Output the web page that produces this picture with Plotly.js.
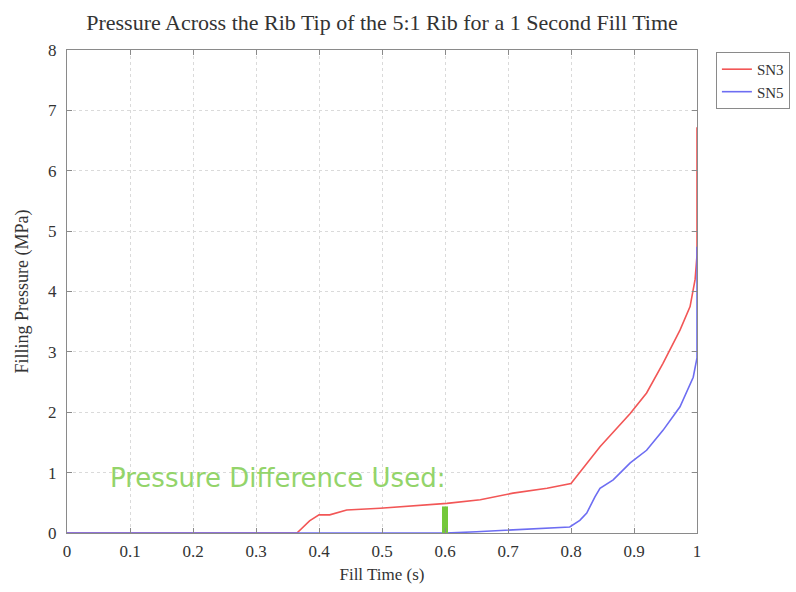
<!DOCTYPE html>
<html>
<head>
<meta charset="utf-8">
<script src="https://cdn.plot.ly/plotly-3.0.1.min.js"></script>
<style>html,body{margin:0;padding:0;background:#fff;}#chart{width:796px;height:592px;}</style>
</head>
<body>
<div id="chart"></div>
<script>
// SN3 series (red)
const sn3Time = [0, 0.365, 0.385, 0.40, 0.417, 0.444, 0.497, 0.55, 0.603, 0.656, 0.708, 0.762, 0.798, 0.80, 0.846, 0.894, 0.92, 0.946, 0.973, 0.989, 0.997, 1.0, 1.0];
const sn3Pressure = [0, 0, 0.2, 0.30, 0.30, 0.38, 0.41, 0.45, 0.49, 0.55, 0.66, 0.74, 0.81, 0.82, 1.43, 1.98, 2.32, 2.81, 3.36, 3.75, 4.2, 4.6, 6.72];
// SN5 series (blue)
const sn5Time = [0, 0.60, 0.65, 0.70, 0.75, 0.798, 0.814, 0.825, 0.838, 0.846, 0.867, 0.894, 0.92, 0.946, 0.973, 0.994, 1.0, 1.0];
const sn5Pressure = [0, 0, 0.02, 0.05, 0.08, 0.10, 0.21, 0.33, 0.60, 0.74, 0.88, 1.16, 1.37, 1.70, 2.09, 2.58, 2.9, 4.74];
// Marker of the pressure difference used
const markerTime = [0.6, 0.6];
const markerPressure = [0, 0.44];
const seriesNames = ["SN3", "SN5"];
const xTicks = [0, 0.1, 0.2, 0.3, 0.4, 0.5, 0.6, 0.7, 0.8, 0.9, 1];
const xTickLabels = ["0", "0.1", "0.2", "0.3", "0.4", "0.5", "0.6", "0.7", "0.8", "0.9", "1"];
const yTicks = [0, 1, 2, 3, 4, 5, 6, 7, 8];

const serif = "Liberation Serif, Times New Roman, serif";

const traces = [
  {x: sn3Time, y: sn3Pressure, mode: "lines", name: seriesNames[0], line: {color: "#f25656", width: 1.6}},
  {x: sn5Time, y: sn5Pressure, mode: "lines", name: seriesNames[1], line: {color: "#6d6df2", width: 1.6}},
  {x: markerTime, y: markerPressure, mode: "lines", showlegend: false, line: {color: "#74c83a", width: 6}}
];

const axisCommon = {
  showline: true, mirror: "ticks", linecolor: "#8a8a8a", linewidth: 1.2,
  ticks: "inside", ticklen: 5, tickcolor: "#8a8a8a",
  showgrid: true, gridcolor: "#dadada", griddash: "dot", gridwidth: 1,
  zeroline: false,
  tickfont: {family: serif, size: 17, color: "#333"}
};

const layout = {
  width: 796, height: 592,
  paper_bgcolor: "#fff", plot_bgcolor: "#fff",
  margin: {l: 67, r: 99, t: 50, b: 59, autoexpand: false},
  title: {text: "Pressure Across the Rib Tip of the 5:1 Rib for a 1 Second Fill Time",
          font: {family: serif, size: 22, color: "#333"}, x: 0.5, xref: "paper", y: 0.962, yanchor: "middle"},
  xaxis: Object.assign({}, axisCommon, {range: [0, 1], tickvals: xTicks, ticktext: xTickLabels, ticklabelstandoff: 2,
          title: {text: "Fill Time (s)", font: {family: serif, size: 17, color: "#333"}, standoff: 8}}),
  yaxis: Object.assign({}, axisCommon, {range: [0, 8], tickvals: yTicks, ticklabelstandoff: 6,
          title: {text: "Filling Pressure (MPa)", font: {family: serif, size: 18, color: "#333"}, standoff: 14}}),
  legend: {x: 1.03, xanchor: "left", y: 0.996, yanchor: "top",
           bgcolor: "#fff", bordercolor: "#8a8a8a", borderwidth: 1,
           font: {family: serif, size: 15, color: "#333"}, tracegroupgap: 0, itemwidth: 30},
  annotations: [{
    x: 0.065, y: 0.91, xref: "x", yref: "y", xanchor: "left", yanchor: "middle",
    text: "Pressure Difference Used:", showarrow: false,
    font: {family: "DejaVu Sans, Verdana, sans-serif", size: 26, color: "#93d46a"}
  }],
  showlegend: true
};

Plotly.newPlot("chart", traces, layout, {displayModeBar: false, staticPlot: true});
</script>
</body>
</html>
